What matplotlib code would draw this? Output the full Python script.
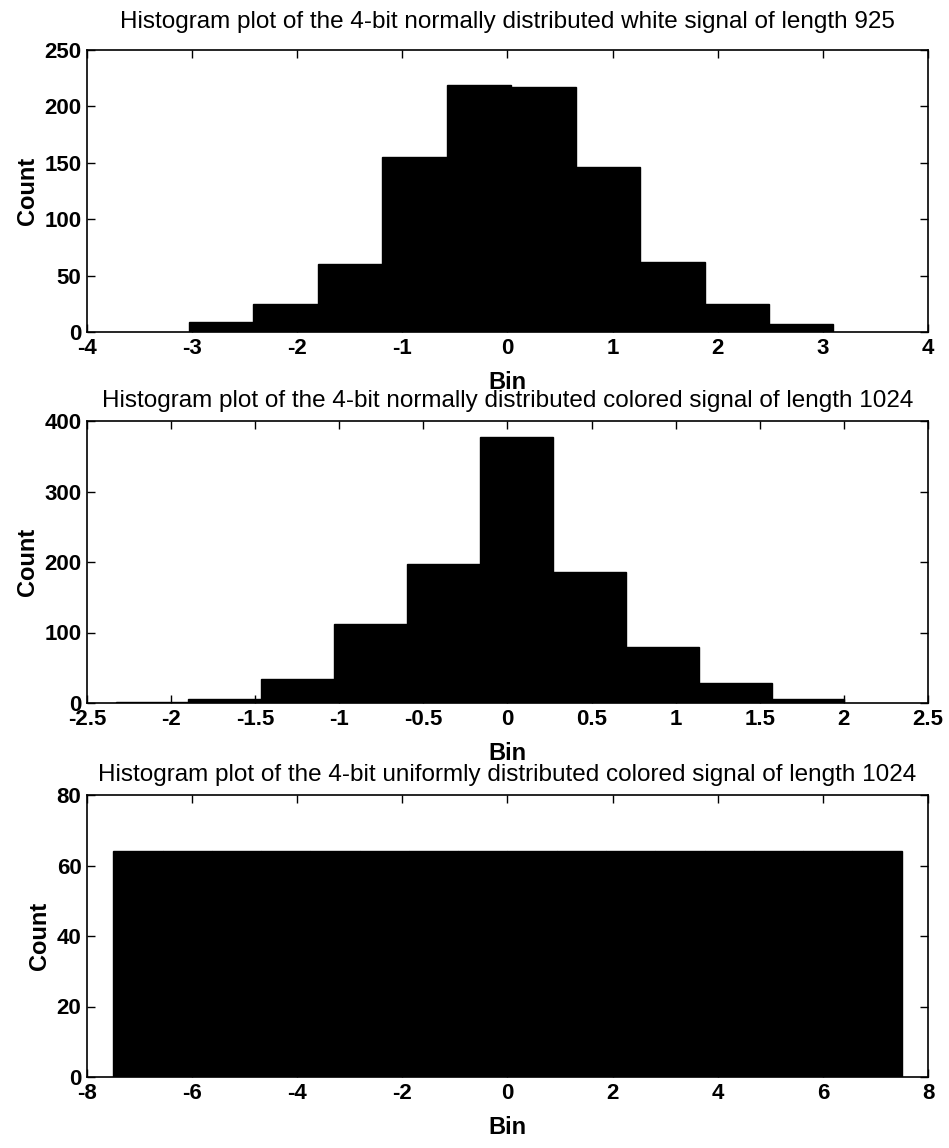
import numpy as np
import matplotlib.pyplot as plt

plt.rcParams['font.family'] = ['Liberation Sans', 'DejaVu Sans']
plt.rcParams['axes.unicode_minus'] = False

# white normal signal, 10 bins
white_edges = np.linspace(-3.03, 3.10, 11)
white_counts = [9, 25, 60, 155, 219, 217, 146, 62, 25, 7]

# colored normal signal, 10 bins
colored_edges = np.linspace(-2.33, 2.003, 11)
colored_counts = [1, 5, 34, 112, 197, 377, 186, 79, 28, 5]

# colored uniform signal, 16 levels
uniform_edges = np.linspace(-7.5, 7.5, 17)
uniform_counts = [64] * 16

titles = [
    "Histogram plot of the 4-bit normally distributed white signal of length 925",
    "Histogram plot of the 4-bit normally distributed colored signal of length 1024",
    "Histogram plot of the 4-bit uniformly distributed colored signal of length 1024",
]
xlims = [(-4, 4), (-2.5, 2.5), (-8, 8)]
xticks = [np.arange(-4, 5, 1), np.arange(-2.5, 2.51, 0.5), np.arange(-8, 9, 2)]
xticklabels = [
    ['-4', '-3', '-2', '-1', '0', '1', '2', '3', '4'],
    ['-2.5', '-2', '-1.5', '-1', '-0.5', '0', '0.5', '1', '1.5', '2', '2.5'],
    ['-8', '-6', '-4', '-2', '0', '2', '4', '6', '8'],
]
ylims = [250, 400, 80]
yticks = [np.arange(0, 251, 50), np.arange(0, 401, 100), np.arange(0, 81, 20)]

fig = plt.figure(figsize=(9.49, 11.48), dpi=100)
H = 1148.0
bottoms_px = [332, 703, 1077]
height_px = 282
title_pads = [16, 10, 10]

data = [(white_edges, white_counts), (colored_edges, colored_counts),
        (uniform_edges, uniform_counts)]

for i, (edges, counts) in enumerate(data):
    ax = fig.add_axes([87 / 949, 1 - bottoms_px[i] / H, 841 / 949, height_px / H])
    ax.hist(edges[:-1], bins=edges, weights=counts, color='black',
            edgecolor='black', linewidth=1.0)
    ax.set_xlim(*xlims[i])
    ax.set_ylim(0, ylims[i])
    ax.set_xticks(xticks[i])
    ax.set_xticklabels(xticklabels[i])
    ax.set_yticks(yticks[i])
    ax.tick_params(direction='in', top=True, right=True, length=6, width=1,
                   labelsize=16, pad=4)
    for lab in ax.get_xticklabels() + ax.get_yticklabels():
        lab.set_fontweight('bold')
    for sp in ax.spines.values():
        sp.set_linewidth(1.2)
    ax.set_title(titles[i], fontsize=17.5, pad=title_pads[i])
    ax.set_xlabel('Bin', fontsize=17, fontweight='bold', labelpad=9)
    ax.set_ylabel('Count', fontsize=17, fontweight='bold', labelpad=4)

fig.savefig('out.png', dpi=100)
